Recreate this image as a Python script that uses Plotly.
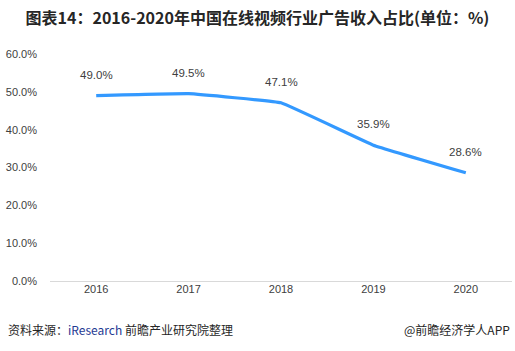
import plotly.graph_objects as go

years = ["2016", "2017", "2018", "2019", "2020"]
share = [49.0, 49.5, 47.1, 35.9, 28.6]
labels = ["49.0%", "49.5%", "47.1%", "35.9%", "28.6%"]
yticks = [0, 10, 20, 30, 40, 50, 60]
yticklabels = ["0.0%", "10.0%", "20.0%", "30.0%", "40.0%", "50.0%", "60.0%"]

fig = go.Figure()
fig.add_trace(go.Scatter(
    x=years, y=share, mode="lines",
    line=dict(color="#3399FF", width=3.2, shape="spline", smoothing=0.2),
    hoverinfo="skip", showlegend=False,
))
for i, (yv, t) in enumerate(zip(share, labels)):
    fig.add_annotation(x=i, y=yv, xref="x", yref="y", text=t, showarrow=False,
                       yshift=21, xanchor="center", yanchor="middle",
                       font=dict(size=11.5, color="#404040",
                                 family="Arial, Liberation Sans, sans-serif"))

fig.update_layout(
    width=515, height=351,
    margin=dict(l=50, r=3, t=54, b=70),
    paper_bgcolor="white", plot_bgcolor="white",
    title=dict(text="<b>图表14：2016-2020年中国在线视频行业广告收入占比(单位：%)</b>",
               x=0.5, xanchor="center", y=0.948, yanchor="middle",
               font=dict(size=16, color="#262626", family="Noto Sans CJK SC, sans-serif")),
    xaxis=dict(type="category", range=[-0.5, 4.5], showgrid=False, zeroline=False,
               showline=False, ticks="", ticklen=0,
               tickfont=dict(size=11, color="#404040", family="Arial, Liberation Sans, sans-serif")),
    yaxis=dict(range=[0, 60], tickvals=yticks, ticktext=yticklabels, showgrid=False,
               zeroline=True, zerolinecolor="#D9D9D9", zerolinewidth=1,
               showline=False, ticks="", ticklabelstandoff=12,
               tickfont=dict(size=11, color="#404040", family="Arial, Liberation Sans, sans-serif")),
)
fig.add_annotation(xref="paper", yref="paper", x=-0.095, y=-0.212, xanchor="left", yanchor="middle",
                   showarrow=False,
                   text="资料来源：<span style='color:#1F3A93'>iResearch</span> 前瞻产业研究院整理",
                   font=dict(size=12, color="#262626", family="Noto Sans CJK SC, sans-serif"))
fig.add_annotation(xref="paper", yref="paper", x=1.0, y=-0.212, xanchor="right", yanchor="middle",
                   showarrow=False, text="@前瞻经济学人APP",
                   font=dict(size=12, color="#262626", family="Noto Sans CJK SC, sans-serif"))

fig.write_html("out.html")
